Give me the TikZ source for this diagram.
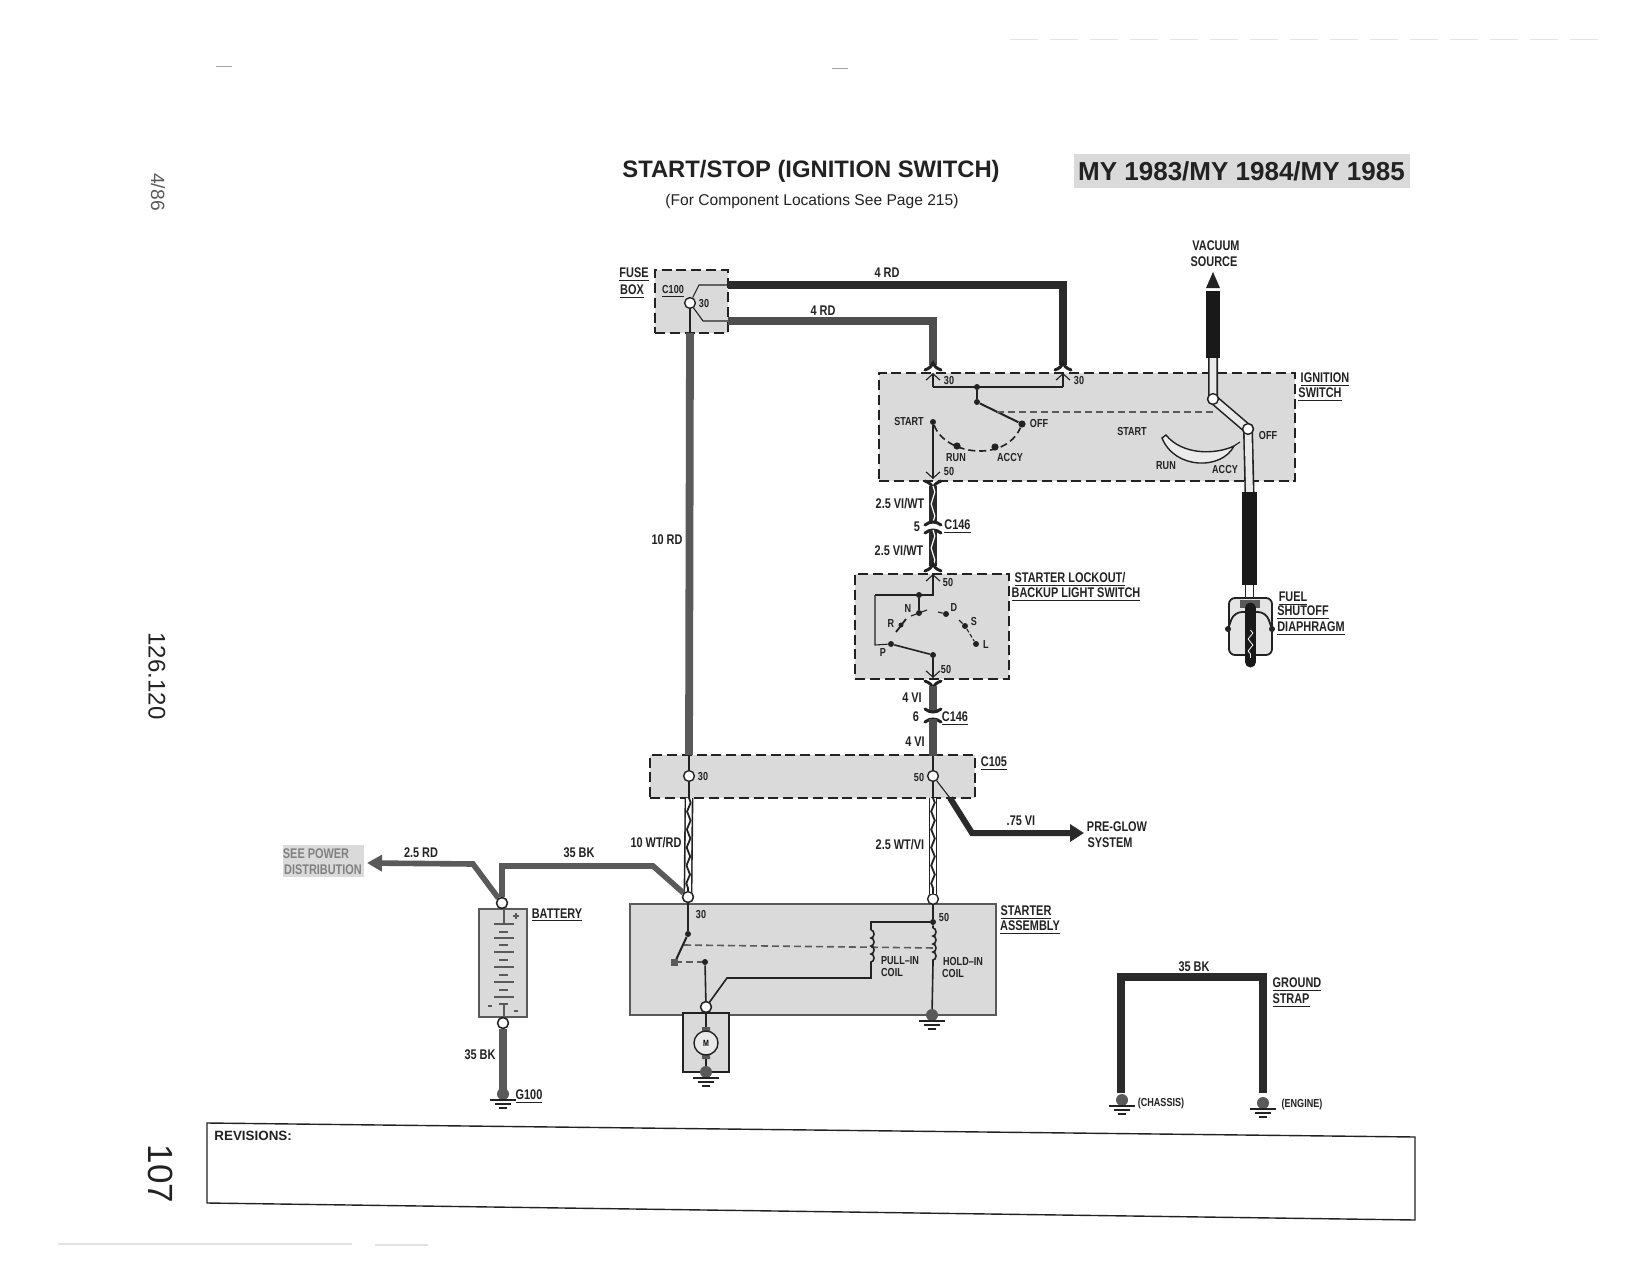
\documentclass[tikz,border=0pt]{standalone}
\usepackage{fontspec}
\setmainfont{Liberation Sans}
\newfontfamily\lab[FakeStretch=0.78]{Liberation Sans}
\usetikzlibrary{decorations.pathmorphing,arrows.meta,calc}
\definecolor{ink}{HTML}{222222}
\definecolor{boxg}{HTML}{DADADA}
\definecolor{redw}{HTML}{4E4E4E}
\definecolor{blkw}{HTML}{2A2A2A}
\definecolor{midg}{HTML}{5A5A5A}
\definecolor{faint}{HTML}{E2E2E2}
\tikzset{
 lbl/.style={inner sep=0pt,text=ink,text height=5pt,text depth=0pt,font=\lab\bfseries\fontsize{7}{8}\selectfont},
 sml/.style={inner sep=0pt,text=ink,text height=4.2pt,text depth=0pt,font=\lab\bfseries\fontsize{5.8}{7}\selectfont},
 dashbox/.style={rectangle,draw=ink,fill=boxg,line width=1.1pt,dash pattern=on 5pt off 2.4pt,inner sep=0pt,outer sep=0pt},
 solidbox/.style={rectangle,draw=midg,fill=boxg,line width=1pt,inner sep=0pt,outer sep=0pt},
 term/.style={circle,draw=ink,fill=white,line width=0.7pt,minimum size=5.4pt,inner sep=0pt},
 dot/.style={circle,fill=ink,minimum size=3pt,inner sep=0pt},
 gdot/.style={circle,fill=midg,minimum size=6pt,inner sep=0pt},
 thin wire/.style={draw=ink,line width=0.55pt},
 wireR/.style={draw=redw,line width=3.9pt},
 wireK/.style={draw=blkw,line width=3.9pt},
 wireS/.style={draw=midg,line width=2.8pt},
 ctrl/.style={draw=midg,line width=0.6pt,dash pattern=on 3.5pt off 2pt},
 barb/.style={-{Straight Barb[length=3.2pt,width=7pt]}},
 forkline/.style={draw=ink,line width=1.5pt,line cap=round},
 hoseO/.style={draw=ink,line width=5pt},
 hoseI/.style={draw=boxg!60!white,line width=3.4pt},
}
\newcommand{\fork}[2]{\draw[forkline] ($(#1)+(-8,#2*5)$) .. controls ($(#1)+(-3,#2*3)$) and ($(#1)+(-1,#2*1)$) .. ($(#1)+(0,#2*-2)$) .. controls ($(#1)+(1,#2*1)$) and ($(#1)+(3,#2*3)$) .. ($(#1)+(8,#2*5)$);}
\newcommand{\wcap}[2]{\draw[forkline] ($(#1)+(-8,#2*3)$) .. controls ($(#1)+(-3,#2*-1)$) and ($(#1)+(3,#2*-1)$) .. ($(#1)+(8,#2*3)$);}
\newcommand{\gnd}[1]{%
 \node[gdot] at (#1) {};
 \draw[draw=ink,line width=0.9pt] ($(#1)+(-13,6)$) -- ($(#1)+(13,6)$);
 \draw[draw=ink,line width=0.9pt] ($(#1)+(-8,10)$) -- ($(#1)+(8,10)$);
 \draw[draw=ink,line width=0.9pt] ($(#1)+(-4,14)$) -- ($(#1)+(4,14)$);}
\newcommand{\twistW}[2]{%
 \draw[draw=ink,line width=4.4pt] (#1) -- (#2);
 \draw[draw=white,line width=2.8pt] (#1) -- (#2);
 \draw[draw=ink,line width=0.9pt,decorate,decoration={zigzag,segment length=9pt,amplitude=0.9pt}] (#1) -- (#2);}
\newcommand{\twistK}[2]{%
 \draw[draw=blkw,line width=4pt] (#1) -- (#2);
 \draw[draw=white,line width=0.6pt,decorate,decoration={zigzag,segment length=12pt,amplitude=0.9pt}] (#1) -- (#2);}
\begin{document}
\begin{tikzpicture}[x=0.5pt,y=-0.5pt]
\fill[white] (0,0) rectangle (1650,1284);
\useasboundingbox (0,0) rectangle (1650,1284);
% scan marks
\draw[draw=gray!70,line width=0.5pt] (216,67) -- (232,67) (832,69) -- (848,69);
\draw[draw=faint,line width=0.5pt,dash pattern=on 14pt off 6pt] (1010,40) -- (1605,40);
\draw[draw=faint,line width=0.6pt] (58,1244) -- (352,1244) (375,1245) -- (428,1245);
% margin texts
\node[rotate=-90,inner sep=0pt,text=midg,font=\fontsize{9.6}{11}\selectfont] (pgdate) at (158,192) {4/86};
\node[rotate=-90,inner sep=0pt,text=ink,font=\fontsize{12}{14}\selectfont] (pgmodel) at (157,676) {126.120};
\node[rotate=-90,inner sep=0pt,text=ink,font=\fontsize{17.5}{20}\selectfont] (pgnum) at (161,1174) {107};
% header
\node[inner sep=0pt,text=ink,font=\bfseries\fontsize{11.9}{13}\selectfont] (title) at (811,171) {START/STOP (IGNITION SWITCH)};
\node[inner sep=0pt,text=ink,font=\fontsize{7.8}{10}\selectfont] (subtitle) at (812,201) {(For Component Locations See Page 215)};
\node[rectangle,fill=boxg,minimum width=168pt,minimum height=17pt,inner sep=0pt,text=ink,font=\bfseries\fontsize{13}{15}\selectfont] (my) at (1241.5,171) {MY 1983/MY 1984/MY 1985};
% boxes
\node[dashbox,minimum width=36.5pt,minimum height=31.5pt] (fuse) at (691.5,301.5) {};
\node[dashbox,minimum width=208pt,minimum height=54pt] (ign) at (1087,427) {};
\node[dashbox,minimum width=77pt,minimum height=52.5pt] (lock) at (932,626.5) {};
\node[dashbox,minimum width=162.5pt,minimum height=21.5pt] (c105) at (812.5,776.5) {};
\node[solidbox,minimum width=183pt,minimum height=55.5pt] (starter) at (813,959.5) {};
\node[solidbox,minimum width=23pt,minimum height=29.5pt,draw=ink] (motorbox) at (706,1042.5) {};
\node[solidbox,minimum width=24pt,minimum height=54pt,line width=1.3pt] (batt) at (503,963) {};
\node[rectangle,fill=boxg,minimum width=40.5pt,minimum height=16pt,inner sep=0pt] (seebox) at (323,861) {};
% named points
\coordinate (f1) at (728,285); \coordinate (f2) at (728,321);
\coordinate (ig1) at (933,365); \coordinate (ig2) at (1063,365);
\node[term] (tfuse) at (690,303) {};
\node[term] (t30) at (689,776) {};
\node[term] (t50) at (933,776) {};
\node[term] (sa30) at (688,897) {};
\node[term] (sa50) at (933,899) {};
\node[term] (bp) at (502,903) {};
\node[term] (bn) at (503,1023) {};
\node[term] (tm) at (706,1007) {};
% fuse box inner
\draw[thin wire] (tfuse) -- (699,285) -- (f1);
\draw[thin wire] (tfuse) -- (703,321) -- (f2);
\draw[thin wire] (tfuse) -- (fuse.south -| tfuse);
% main wires
\draw[wireK] (f1) -| (ig2);
\draw[wireR] (f2) -| (ig1);
\coordinate (fb) at (690,333); \coordinate (ct) at (689,755);
\draw[draw=midg,line width=3.9pt] (fb) -- (ct);
\draw[thin wire] (ct) -- (t30);
\draw[thin wire] (t30) -- (689,798);
\coordinate (tw1a) at (689,798); \coordinate (tw1b) at (688,892);
\twistW{tw1a}{tw1b}
\coordinate (tw2a) at (933,798); \coordinate (tw2b) at (933,894);
\twistW{tw2a}{tw2b}
\draw[thin wire] (t50) -- (tw2a);
% forks at ignition switch
\fork{ig1}{1}\fork{ig2}{1}
\coordinate (ig3) at (933,486); \fork{ig3}{-1}
\coordinate (cap1a) at (933,522); \coordinate (cap1b) at (933,530);
\twistK{ig3}{cap1a}
\wcap{cap1a}{1}\wcap{cap1b}{1}
\coordinate (lk1) at (933,566);
\twistK{cap1b}{lk1}
\fork{lk1}{1}
\coordinate (lk2) at (933,686); \fork{lk2}{-1}
\coordinate (cap2a) at (933,712); \coordinate (cap2b) at (933,719);
\draw[wireR] (lk2) -- (cap2a);
\wcap{cap2a}{-1}\wcap{cap2b}{1}
\coordinate (c105t) at (933,756);
\draw[wireR] (cap2b) -- (c105t);
\draw[thin wire] (c105t) -- (t50);
% ignition inner
\coordinate (ia) at (933,373); \coordinate (ib) at (1063,373);
\node[dot] (ij) at (977,387) {};
\node[dot] (ip) at (977,402) {};
\node[dot,minimum size=3.6pt] (ioff) at (1022,424) {};
\node[dot] (istart) at (933,422) {};
\node[dot,minimum size=3.6pt] (irun) at (957,446) {};
\node[dot,minimum size=3.6pt] (iaccy) at (995,447) {};
\coordinate (i50) at (933,479);
\draw[thin wire,line width=0.8pt] (ij) -- (ip);
\draw[draw=ink,line width=1pt] (ip) -- (ioff);
\draw[thin wire,barb] (933,387) -- (ia);
\draw[thin wire,barb] (1063,387) -- (ib);
\draw[thin wire] (933,387) -- (1063,387);
\draw[ctrl,draw=ink,line width=0.8pt] (istart) .. controls (945,455) and (1005,463) .. (ioff);
\draw[thin wire,barb] (istart) -- (i50);
\draw[ctrl,line width=0.8pt] (997,412) -- (1213,412);
% vacuum hose
\coordinate (vtip) at (1213,272); \coordinate (vb1) at (1213,288);
\coordinate (vb2) at (1213,358); \coordinate (wb1) at (1249.5,492); \coordinate (wb2) at (1249.5,585);
\node[term] (vj1) at (1213,399) {};
\node[term] (vj2) at (1248,429) {};
\path[fill=ink] (vtip) -- (1220,288) -- (1206,288) -- cycle;
\draw[draw=black!90,line width=7pt] (1213,291) -- (vb2);
\draw[hoseO] (vb2) -- (vj1.center) -- (vj2.center) -- (wb1);
\draw[hoseI] (vb2) -- (vj1.center) -- (vj2.center) -- (wb1);
\node[term] at (1213,399) {};
\node[term] at (1248,429) {};
\draw[draw=black!90,line width=7.6pt] (wb1) -- (wb2);
\draw[draw=ink,fill=boxg!50!white,line width=0.7pt] (1162,438) .. controls (1175,470) and (1222,470) .. (1234,446) .. controls (1215,455) and (1182,455) .. (1166,435) -- cycle;
\draw[thin wire] (1234,446) -- (1240,442);
% fuel shutoff diaphragm
\draw[draw=ink,fill=boxg!70!white,line width=0.9pt,rounded corners=3pt] (1229,655) -- (1229,598) -- (1272,598) -- (1272,655) -- cycle;
\draw[draw=ink,line width=0.7pt] (wb2) ++(-4,0) -- ++(0,13) ++(8,-13) -- ++(0,13);
\draw[draw=ink,line width=0.9pt,rounded corners=4pt] (1228,629) -- (1234,612) -- (1266,612) -- (1272,629);
\node[dot] (dl) at (1228,629) {}; \node[dot] (dr) at (1272,629) {};
\path[fill=midg] (1240,600) rectangle (1260,608);
\draw[draw=black!90,line width=5.5pt,line cap=round] (1250.5,608) -- (1250.5,662);
\draw[draw=white,line width=0.4pt,decorate,decoration={zigzag,segment length=6pt,amplitude=1.2pt}] (1250.5,630) -- (1250.5,658);
% lockout inner
\coordinate (la) at (933,574); \coordinate (lb) at (933,678);
\node[dot] (lt) at (919,595) {};
\node[dot] (ln) at (919,613) {};
\node[dot,minimum size=2.5pt] (lr) at (901,625) {};
\node[dot] (ld) at (946,614) {};
\node[dot] (ls) at (965,626) {};
\node[dot] (ll) at (976,644) {};
\node[dot] (lp) at (891,644) {};
\node[dot] (lq) at (933,655) {};
\draw[thin wire,barb] (875,595) -- (933,595) -- (la);
\draw[thin wire] (875,595) -- (875,645) -- (lp);
\draw[thin wire,line width=0.8pt] (lt) -- (ln);
\draw[draw=ink,line width=0.8pt] (lp) -- (lq);
\draw[thin wire,barb] (lq) -- (lb);
\draw[thin wire] (911,616) -- (927,610);
\draw[thin wire,line width=0.9pt] (896,632) -- (906,619);
\draw[thin wire] (938,612) -- (ld);
\draw[thin wire] (959,620) -- (ls);
\draw[thin wire,dash pattern=on 2pt off 1pt] (ls) -- (ll);
% c105 & pre-glow
\coordinate (pg1) at (950,798); \coordinate (pg2) at (972,833); \coordinate (pg3) at (1084,833);
\draw[thin wire] (t50) -- (pg1);
\draw[draw=blkw,line width=3pt,-{Triangle[length=7pt,width=8.5pt]}] (pg1) -- (pg2) -- (pg3);
% battery wires
\coordinate (arrS) at (367,863);
\draw[wireS,-{Triangle[length=7.5pt,width=8pt]}] (bp) -- (473,864) -- (arrS);
\draw[wireS] (bp) -- (502,866) -- (653,866) -- (sa30);
\node[term] at (502,903) {};
\node[term] at (688,897) {};
\coordinate (g100) at (503,1094);
\draw[draw=midg,line width=3.9pt] (bn) -- (g100);
\gnd{g100}
\node[term] at (503,1023) {};
% battery plates
\draw[thin wire,draw=midg] (504,909) -- (504,924);
\foreach \yy in {924,938,952,967,982,997} \draw[thin wire,draw=midg] (494,\yy) -- (514,\yy);
\foreach \yy in {932,945,960,975,990,1004} \draw[thin wire,draw=midg] (499,\yy) -- (508,\yy);
\draw[thin wire,draw=midg] (504,1004) -- (504,1017);
\draw[thin wire,draw=midg] (513,916) -- (519,916) (516,913) -- (516,919);
\draw[thin wire,draw=midg] (488,1006) -- (492,1006) (514,1011) -- (518,1011);
% starter inner
\node[dot] (s1) at (688,934) {};
\coordinate (s2) at (675,962);
\node[dot] (s3) at (705,962) {};
\node[dot] (s50) at (933,922) {};
\coordinate (sg) at (932,1015);
\coordinate (mg) at (706,1072);
\draw[thin wire,line width=0.8pt] (sa30) -- (s1);
\draw[draw=ink,line width=1pt] (s1) -- (s2);
\path[fill=midg] (671,959) rectangle (678,966);
\draw[ctrl,line width=0.8pt] (s2) -- (s3);
\draw[thin wire,line width=0.8pt] (s3) -- (tm);
\draw[ctrl,line width=0.8pt] (684,945) -- (935,948);
\draw[thin wire,line width=0.8pt] (tm) -- (727,978) -- (871,978) -- (871,963);
\draw[thin wire,line width=0.8pt,decorate,decoration={bumps,segment length=8pt,amplitude=1.5pt}] (871,930) -- (871,963);
\draw[thin wire,line width=0.8pt] (871,930) -- (871,922) -- (s50);
\draw[thin wire,line width=0.8pt] (sa50) -- (s50);
\draw[thin wire,line width=0.8pt,decorate,decoration={bumps,segment length=8pt,amplitude=1.5pt}] (933,928) -- (933,963);
\draw[thin wire,line width=0.8pt] (s50) -- (933,928) (933,963) -- (sg);
\gnd{sg}
\node[term] at (706,1007) {};
% motor
\path[fill=midg] (702,1027) rectangle (710,1032) (702,1054) rectangle (710,1059);
\draw[thin wire,line width=0.8pt] (tm) -- (706,1027) (706,1059) -- (mg);
\node[circle,draw=ink,fill=boxg!60!white,line width=0.7pt,minimum size=12pt,inner sep=0pt,font=\lab\bfseries\fontsize{4.5}{5}\selectfont] (motor) at (706,1043) {M};
\gnd{mg}
% ground strap
\coordinate (gsl) at (1121,1093); \coordinate (gsr) at (1263,1093);
\coordinate (gdl) at (1122,1100); \coordinate (gdr) at (1263,1103);
\draw[draw=blkw,line width=3.7pt] (gsl) -- (1121,977) -- (1263,977) -- (gsr);
\gnd{gdl}\gnd{gdr}
% labels
\node[lbl] (l1) at (634,272) {\underline{FUSE}};
\node[lbl] (l2) at (632,289) {\underline{BOX}};
\node[sml] (l3) at (673,289) {\underline{C100}};
\node[sml] (l4) at (704,303) {30};
\node[lbl] (l5) at (887,272) {4 RD};
\node[lbl] (l6) at (823,310) {4 RD};
\node[lbl] (l7) at (667,539) {10 RD};
\node[lbl] (l8) at (1216,245) {VACUUM};
\node[lbl] (l9) at (1214,261) {SOURCE};
\node[lbl] (l10) at (1325,377) {\underline{IGNITION}};
\node[lbl] (l11) at (1320,392) {\underline{SWITCH}};
\node[sml] (l12) at (949,380) {30};
\node[sml] (l13) at (1079,380) {30};
\node[sml] (l14) at (909,421) {START};
\node[sml] (l15) at (1039,423) {OFF};
\node[sml] (l16) at (956,457) {RUN};
\node[sml] (l17) at (1010,457) {ACCY};
\node[sml] (l18) at (949,471) {50};
\node[sml] (l19) at (1132,431) {START};
\node[sml] (l20) at (1166,465) {RUN};
\node[sml] (l21) at (1225,469) {ACCY};
\node[sml] (l22) at (1268,435) {OFF};
\node[lbl] (l23) at (900,503) {2.5 VI/WT};
\node[lbl] (l24) at (917,526) {5};
\node[lbl] (l25) at (957.5,524) {\underline{C146}};
\node[lbl] (l26) at (899,550) {2.5 VI/WT};
\node[lbl] (l27) at (1070,577) {\underline{STARTER LOCKOUT/}};
\node[lbl] (l28) at (1076,592) {\underline{BACKUP LIGHT SWITCH}};
\node[sml] (l29) at (948,582) {50};
\node[sml] (l30) at (946,669) {50};
\node[sml] (l31) at (908,608) {N};
\node[sml] (l32) at (891,623) {R};
\node[sml] (l33) at (954,607) {D};
\node[sml] (l34) at (974,621) {S};
\node[sml] (l35) at (986,644) {L};
\node[sml] (l36) at (883,652) {P};
\node[lbl] (l37) at (1293,596) {\underline{FUEL}};
\node[lbl] (l38) at (1303,610) {\underline{SHUTOFF}};
\node[lbl] (l39) at (1311,626) {\underline{DIAPHRAGM}};
\node[lbl] (l40) at (912,697) {4 VI};
\node[lbl] (l41) at (916,716) {6};
\node[lbl] (l42) at (955,716) {\underline{C146}};
\node[lbl] (l43) at (915,741) {4 VI};
\node[lbl] (l44) at (994,761) {\underline{C105}};
\node[sml] (l45) at (703,776) {30};
\node[sml] (l46) at (919,777) {50};
\node[lbl] (l47) at (1021,820) {.75 VI};
\node[lbl] (l48) at (1117,826) {PRE-GLOW};
\node[lbl] (l49) at (1110,842) {SYSTEM};
\node[lbl] (l50) at (656,842) {10 WT/RD};
\node[lbl] (l51) at (900,844) {2.5 WT/VI};
\node[lbl] (l52) at (421,852) {2.5 RD};
\node[lbl] (l53) at (579,852) {35 BK};
\node[lbl,text=gray] (l54) at (316,853) {SEE POWER};
\node[lbl,text=gray] (l55) at (323,869) {DISTRIBUTION};
\node[lbl] (l56) at (557,913) {\underline{BATTERY}};
\node[lbl] (l57) at (480,1054) {35 BK};
\node[lbl] (l58) at (529,1094) {\underline{G100}};
\node[sml] (l59) at (701,914) {30};
\node[sml] (l60) at (944,917) {50};
\node[sml] (l61) at (900,960) {PULL–IN};
\node[sml] (l62) at (892,972) {COIL};
\node[sml] (l63) at (963,961) {HOLD–IN};
\node[sml] (l64) at (953,973) {COIL};
\node[lbl] (l65) at (1026,910) {\underline{STARTER}};
\node[lbl] (l66) at (1030,925) {\underline{ASSEMBLY}};
\node[lbl] (l67) at (1194,966) {35 BK};
\node[lbl] (l68) at (1297,982) {\underline{GROUND}};
\node[lbl] (l69) at (1291,998) {\underline{STRAP}};
\node[sml] (l70) at (1161,1102) {(CHASSIS)};
\node[sml] (l71) at (1302,1103) {(ENGINE)};
% revisions
\draw[draw=ink,line width=0.7pt] (207,1123) -- (1415,1137) -- (1415,1220) -- (207,1203) -- cycle;
\node[anchor=west,inner sep=0pt,text=ink,font=\bfseries\fontsize{6.7}{8}\selectfont] (rev) at (214,1136) {REVISIONS:};
\end{tikzpicture}
\end{document}
